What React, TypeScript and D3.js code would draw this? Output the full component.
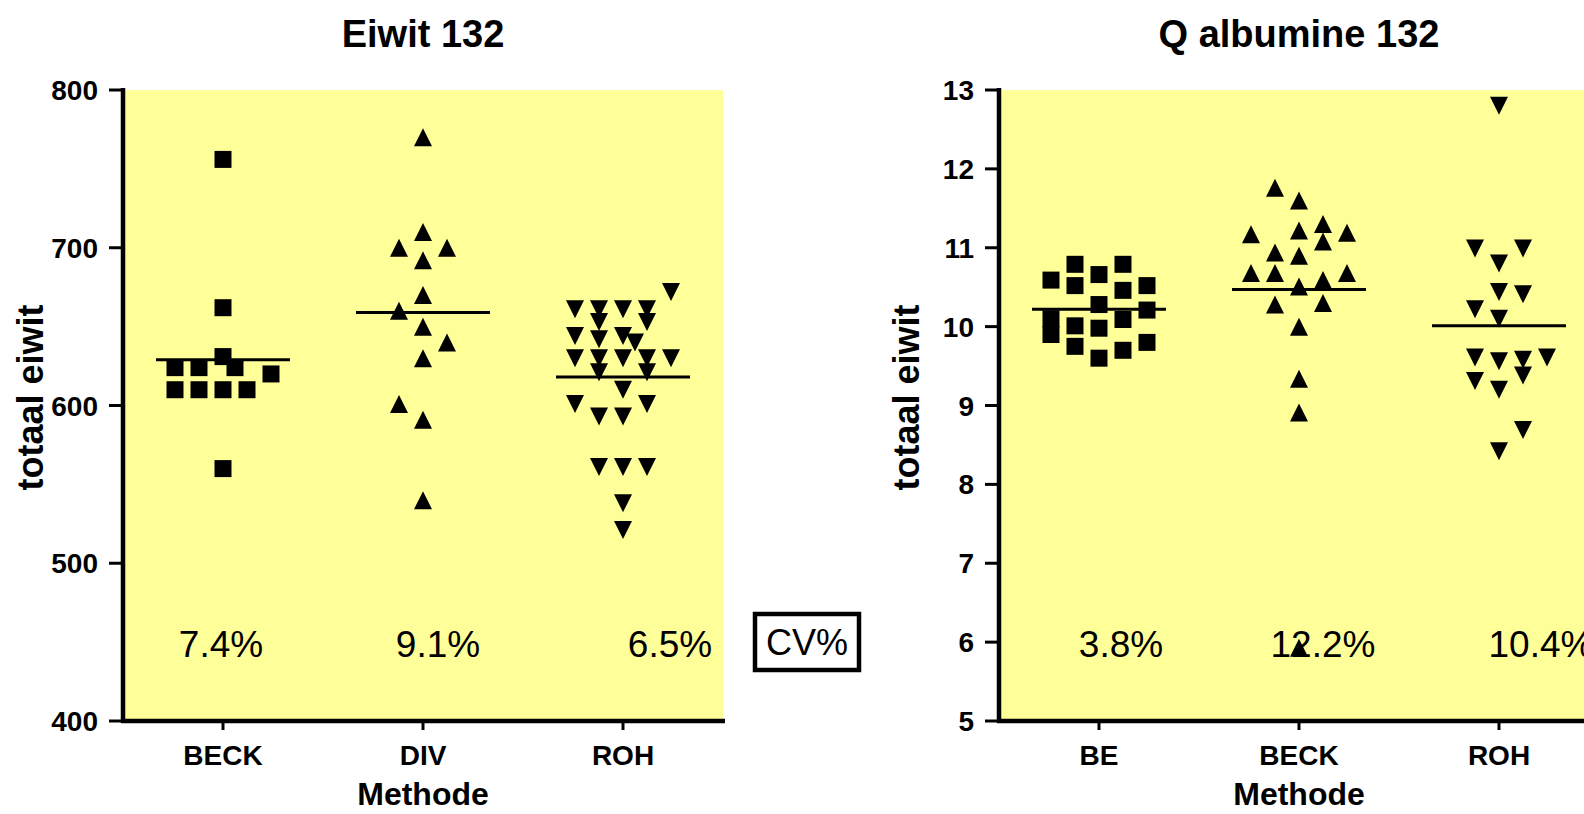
import React from 'react';
import * as d3 from 'd3';

// Categories per panel
const eiwitCategories = ['BECK', 'DIV', 'ROH'];
const albumineCategories = ['BE', 'BECK', 'ROH'];

// Points: [value, column slot (marker widths from column centre)]
const eiwitBeck: [number, number][] = [
  [756, 0], [662, 0], [631, 0], [624, -2], [624, -1], [624, 0.5], [620, 2],
  [610, -2], [610, -1], [610, 0], [610, 1], [560, 0],
];
const eiwitDiv: [number, number][] = [
  [770, 0], [710, 0], [700, -1], [700, 1], [692, 0], [670, 0], [660, -1],
  [650, 0], [640, 1], [630, 0], [601, -1], [591, 0], [540, 0],
];
const eiwitRoh: [number, number][] = [
  [672, 2], [661, -2], [661, -1], [661, 0], [661, 1], [653, -1], [653, 1],
  [644, -2], [642, -1], [644, 0], [640, 0.5], [630, -2], [630, -1], [630, 0],
  [630, 1], [630, 2], [621, -1], [621, 1], [610, 0], [601, -2], [601, 1],
  [593, -1], [593, 0], [561, -1], [561, 0], [561, 1], [538, 0], [521, 0],
];
const albBe: [number, number][] = [
  [10.59, -2], [10.1, -2], [9.9, -2], [10.79, -1], [10.52, -1], [10.01, -1],
  [9.75, -1], [10.66, 0], [10.28, 0], [9.98, 0], [9.6, 0], [10.79, 1],
  [10.46, 1], [10.09, 1], [9.7, 1], [10.52, 2], [10.21, 2], [9.8, 2],
];
const albBeck: [number, number][] = [
  [11.76, -1], [11.6, 0], [11.17, -2], [11.22, 0], [11.3, 1], [11.08, 1],
  [11.19, 2], [10.94, -1], [10.9, 0], [10.68, -2], [10.68, -1], [10.68, 2],
  [10.59, 1], [10.51, 0], [10.28, -1], [10.3, 1], [10.0, 0], [9.34, 0],
  [8.91, 0], [5.93, 0],
];
const albRoh: [number, number][] = [
  [12.8, 0], [10.99, -1], [10.99, 1], [10.8, 0], [10.44, 0], [10.41, 1],
  [10.22, -1], [10.1, 0], [9.61, -1], [9.56, 0], [9.58, 1], [9.38, 1],
  [9.61, 2], [9.31, -1], [9.2, 0], [8.69, 1], [8.42, 0],
];

const eiwitMeans = [629, 659, 618];
const albumineMeans = [10.22, 10.47, 10.01];
const eiwitCV = ['7.4%', '9.1%', '6.5%'];
const albumineCV = ['3.8%', '12.2%', '10.4%'];
const eiwitTicks = [400, 500, 600, 700, 800];
const albumineTicks = [5, 6, 7, 8, 9, 10, 11, 12, 13];

const FONT = '"Liberation Sans", Arial, sans-serif';
const top = 90;
const bottom = 721;
const plotW = 600;
const slotStep = 24;

// triangle symbols (width = height = sqrt(size))
const triUp = {
  draw(ctx: any, size: number) {
    const w = Math.sqrt(size);
    ctx.moveTo(0, -w / 2);
    ctx.lineTo(w / 2, w / 2);
    ctx.lineTo(-w / 2, w / 2);
    ctx.closePath();
  },
};
const triDown = {
  draw(ctx: any, size: number) {
    const w = Math.sqrt(size);
    ctx.moveTo(-w / 2, -w / 2);
    ctx.lineTo(w / 2, -w / 2);
    ctx.lineTo(0, w / 2);
    ctx.closePath();
  },
};
const symbols: Record<string, string> = {
  square: d3.symbol().type(d3.symbolSquare).size(17 * 17)() as string,
  up: d3.symbol().type(triUp as any).size(18 * 18)() as string,
  down: d3.symbol().type(triDown as any).size(18 * 18)() as string,
};

interface PanelProps {
  x0: number;
  title: string;
  categories: string[];
  groups: [number, number][][];
  shapes: string[];
  means: number[];
  cv: string[];
  cvShift: number[];
  domain: [number, number];
  ticks: number[];
}

const Panel: React.FC<PanelProps> = ({ x0, title, categories, groups, shapes, means, cv, cvShift, domain, ticks }) => {
  const x = d3.scaleBand().domain(categories).range([x0, x0 + plotW]);
  const y = d3.scaleLinear().domain(domain).range([bottom, top]);
  const cx = (c: string) => (x(c) as number) + x.bandwidth() / 2;
  const mid = x0 + plotW / 2;

  return (
    <g fontFamily={FONT}>
      <text x={mid} y={47} textAnchor="middle" fontSize={38} fontWeight="bold">{title}</text>
      <rect x={x0} y={top} width={plotW} height={bottom - top} fill="#ffff99" />

      {/* CV annotations */}
      {cv.map((t, i) => (
        <text key={t} x={cx(categories[i]) + cvShift[i]} y={657} textAnchor="middle" fontSize={37}>{t}</text>
      ))}

      {/* points */}
      {groups.map((pts, gi) =>
        pts.map(([v, s], i) => (
          <path key={`${gi}-${i}`} d={symbols[shapes[gi]]}
            transform={`translate(${cx(categories[gi]) + s * slotStep},${y(v)})`} fill="#000" />
        ))
      )}

      {/* means */}
      {means.map((m, i) => (
        <line key={i} x1={cx(categories[i]) - 67} x2={cx(categories[i]) + 67}
          y1={y(m)} y2={y(m)} stroke="#000" strokeWidth={3} />
      ))}

      {/* y axis */}
      <line x1={x0} x2={x0} y1={top - 2} y2={bottom + 2} stroke="#000" strokeWidth={4.5} />
      {ticks.map(t => (
        <g key={t}>
          <line x1={x0 - 14} x2={x0} y1={y(t)} y2={y(t)} stroke="#000" strokeWidth={3} />
          <text x={x0 - 25} y={y(t)} dy="0.36em" textAnchor="end" fontSize={28} fontWeight="bold">{t}</text>
        </g>
      ))}
      <text transform={`translate(${x0 - 80},${(top + bottom) / 2 - 8}) rotate(-90)`}
        textAnchor="middle" fontSize={36} fontWeight="bold">totaal eiwit</text>

      {/* x axis */}
      <line x1={x0 - 2} x2={x0 + plotW + 2} y1={bottom} y2={bottom} stroke="#000" strokeWidth={4.5} />
      {categories.map(c => (
        <g key={c}>
          <line x1={cx(c)} x2={cx(c)} y1={bottom} y2={bottom + 9} stroke="#000" strokeWidth={3} />
          <text x={cx(c)} y={765} textAnchor="middle" fontSize={28} fontWeight="bold">{c}</text>
        </g>
      ))}
      <text x={mid} y={805} textAnchor="middle" fontSize={32} fontWeight="bold">Methode</text>
    </g>
  );
};

export default function App() {
  return (
    <svg width={1584} height={814} style={{ position: 'absolute', left: 0, top: 0, background: '#fff' }}>
      <Panel x0={123} title="Eiwit 132" categories={eiwitCategories}
        groups={[eiwitBeck, eiwitDiv, eiwitRoh]} shapes={['square', 'up', 'down']}
        means={eiwitMeans} cv={eiwitCV} cvShift={[-2, 15, 47]}
        domain={[400, 800]} ticks={eiwitTicks} />
      <Panel x0={999} title="Q albumine 132" categories={albumineCategories}
        groups={[albBe, albBeck, albRoh]} shapes={['square', 'up', 'down']}
        means={albumineMeans} cv={albumineCV} cvShift={[22, 24, 42]}
        domain={[5, 13]} ticks={albumineTicks} />
      <rect x={755} y={614} width={104} height={56} fill="none" stroke="#000" strokeWidth={4.5} />
      <text x={807} y={655} textAnchor="middle" fontSize={36} fontFamily={FONT}>CV%</text>
    </svg>
  );
}
